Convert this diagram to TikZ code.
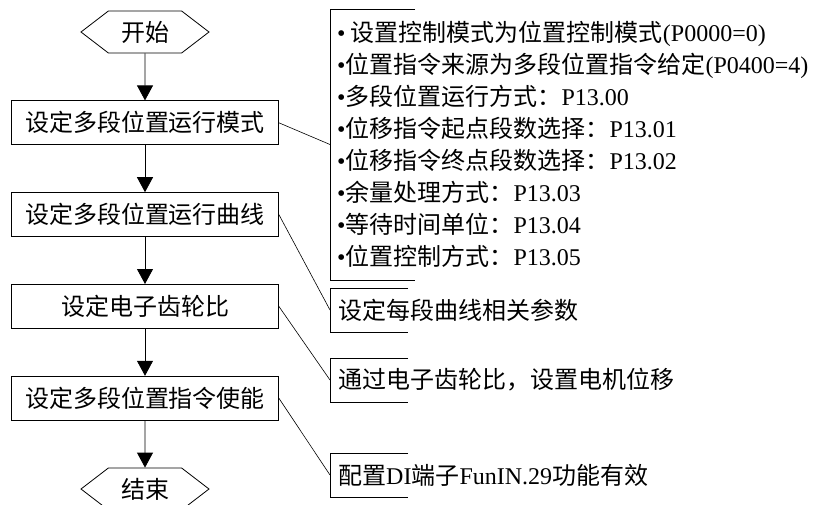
\documentclass[tikz,border=0pt]{standalone}
\usepackage{fontspec}
\setmainfont{Noto Sans CJK SC}
\newfontfamily\en{Liberation Serif}
\usepackage{tikz}
\usetikzlibrary{
  arrows.meta,
  positioning,
  shapes.symbols
}
\tikzset{
  terminal/.style={shape=signal,signal to=west and east,signal pointer angle=75,
    draw,line width=0.8pt,minimum width=128pt,minimum height=42pt,inner sep=0pt,
    font=\fontsize{24}{28}\selectfont},
  stepbox/.style={draw,line width=0.8pt,minimum width=267pt,minimum height=44pt,
    inner sep=0pt,font=\fontsize{24}{28}\selectfont},
  note/.style={anchor=west,align=left,inner xsep=7pt,inner ysep=0pt,
    font=\fontsize{24}{32}\selectfont},
  flow/.style={-{Triangle[length=15pt,width=16pt]},line width=0.8pt},
  link/.style={line width=0.6pt}
}
\newcommand{\bul}{{\en •}}

\begin{document}
\begin{tikzpicture}[x=1pt,y=1pt,node distance=47pt]
  \useasboundingbox (0,0) rectangle (822,-504);
  % flow chart
  \node[terminal] (start) at (145,-32) {开始};
  \node[stepbox,below=of start] (mode) {设定多段位置运行模式};
  \node[stepbox,below=of mode] (curve) {设定多段位置运行曲线};
  \node[stepbox,below=of curve] (gear) {设定电子齿轮比};
  \node[stepbox,below=of gear] (enable) {设定多段位置指令使能};
  \node[terminal,below=of enable] (stop) {结束};
  \draw[flow] (start)--(mode);
  \draw[flow] (mode)--(curve);
  \draw[flow] (curve)--(gear);
  \draw[flow] (gear)--(enable);
  \draw[flow] (enable)--(stop);
  % notes
  \node[note,minimum height=271pt] (modenote) at (330,-144.5) {%
    \bul\ 设置控制模式为位置控制模式{\en(P0000=0)}\\
    \bul 位置指令来源为多段位置指令给定{\en(P0400=4)}\\
    \bul 多段位置运行方式：{\en P13.00}\\
    \bul 位移指令起点段数选择：{\en P13.01}\\
    \bul 位移指令终点段数选择：{\en P13.02}\\
    \bul 余量处理方式：{\en P13.03}\\
    \bul 等待时间单位：{\en P13.04}\\
    \bul 位置控制方式：{\en P13.05}};
  \node[note,minimum height=44pt,inner xsep=8pt] (curvenote) at (330,-310) {设定每段曲线相关参数};
  \node[note,minimum height=44pt,inner xsep=8pt] (gearnote) at (330,-380) {通过电子齿轮比，设置电机位移};
  \node[note,minimum height=44pt,inner xsep=8pt] (enablenote) at (330,-475)
    {配置{\en DI}端子{\en FunIN.29}功能有效};
  \foreach \n/\w in {modenote/85,curvenote/78,gearnote/78,enablenote/78}
    \draw[link] ([xshift=\w pt]\n.north west)--(\n.north west)--(\n.south west)
      --([xshift=\w pt]\n.south west);
  \draw[link] (mode.east)--(modenote.west);
  \draw[link] (curve.east)--(curvenote.west);
  \draw[link] (gear.east)--(gearnote.west);
  \draw[link] (enable.east)--(enablenote.west);
\end{tikzpicture}
\end{document}
